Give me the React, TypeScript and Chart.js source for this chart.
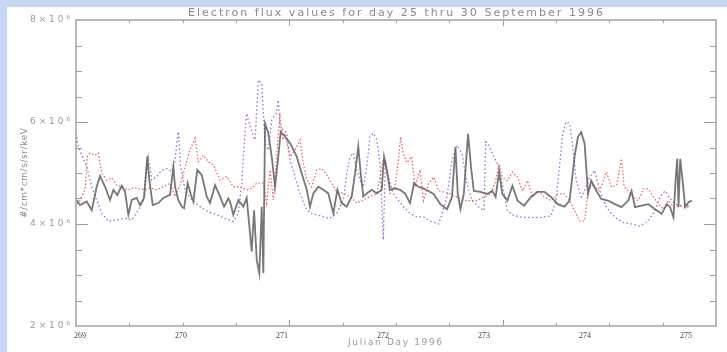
import { useEffect, useRef } from "react";
import { Chart, registerables } from "chart.js";

Chart.register(...registerables);

const TITLE = "Electron flux values for day 25 thru 30 September 1996";
const X_TITLE = "Julian Day 1996";
const Y_TITLE = "#/cm*cm/s/sr/keV";
const DAY_TICKS = [269, 270, 271, 272, 273, 274, 275];
const FLUX_TICKS = [2, 4, 6, 8]; // ×10⁶
const X_MIN = 268.96;
const X_MAX = 275.297;

// [julian day, flux ×10⁶]
const solidFlux: [number, number][] = [
  [268.967, 4.47], [269.0, 4.37], [269.066, 4.44], [269.116, 4.27], [269.165, 4.73], [269.198, 4.94],
  [269.248, 4.73], [269.297, 4.47], [269.33, 4.67], [269.369, 4.57], [269.413, 4.75], [269.446, 4.63],
  [269.478, 4.18], [269.512, 4.47], [269.561, 4.51], [269.594, 4.37], [269.634, 4.51], [269.666, 5.32],
  [269.686, 4.86], [269.72, 4.37], [269.775, 4.41], [269.825, 4.51], [269.891, 4.57], [269.924, 5.12],
  [269.941, 4.73], [269.973, 4.47], [270.007, 4.34], [270.03, 4.31], [270.066, 4.8], [270.099, 4.57],
  [270.122, 4.44], [270.161, 5.06], [270.205, 4.96], [270.254, 4.54], [270.287, 4.41], [270.337, 4.76],
  [270.386, 4.54], [270.426, 4.34], [270.468, 4.5], [270.485, 4.44], [270.518, 4.18], [270.567, 4.47],
  [270.617, 4.34], [270.65, 4.51], [270.683, 3.82], [270.7, 3.46], [270.723, 4.27], [270.75, 3.29],
  [270.775, 3.03], [270.799, 4.34], [270.815, 3.04], [270.832, 5.97], [270.864, 5.78], [270.898, 5.32],
  [270.931, 4.73], [270.963, 5.32], [270.987, 5.81], [271.03, 5.71], [271.079, 5.59], [271.146, 5.32],
  [271.195, 4.99], [271.245, 4.67], [271.277, 4.34], [271.31, 4.6], [271.359, 4.73], [271.409, 4.67],
  [271.458, 4.6], [271.508, 4.21], [271.548, 4.67], [271.591, 4.41], [271.641, 4.34], [271.69, 4.54],
  [271.723, 4.99], [271.755, 5.52], [271.779, 4.99], [271.805, 4.54], [271.839, 4.6], [271.888, 4.67],
  [271.938, 4.6], [271.987, 4.67], [272.01, 5.32], [272.037, 5.06], [272.069, 4.67], [272.119, 4.7],
  [272.168, 4.67], [272.218, 4.6], [272.267, 4.41], [272.307, 4.8], [272.349, 4.73], [272.399, 4.7],
  [272.501, 4.59], [272.567, 4.39], [272.634, 4.29], [272.683, 4.53], [272.717, 5.51], [272.74, 4.59],
  [272.766, 4.29], [272.8, 4.59], [272.842, 5.77], [272.871, 5.12], [272.899, 4.65], [272.965, 4.63],
  [273.03, 4.59], [273.082, 4.65], [273.115, 4.53], [273.149, 5.02], [273.181, 4.59], [273.232, 4.46],
  [273.281, 4.75], [273.331, 4.46], [273.396, 4.36], [273.465, 4.53], [273.531, 4.63], [273.597, 4.63],
  [273.663, 4.53], [273.73, 4.39], [273.796, 4.34], [273.847, 4.46], [273.896, 5.31], [273.93, 5.71],
  [273.962, 5.8], [273.996, 5.58], [274.03, 4.59], [274.062, 4.85], [274.112, 4.65], [274.161, 4.49],
  [274.228, 4.46], [274.295, 4.39], [274.361, 4.33], [274.428, 4.46], [274.461, 4.65], [274.495, 4.33],
  [274.56, 4.36], [274.627, 4.39], [274.693, 4.29], [274.759, 4.2], [274.81, 4.39], [274.842, 4.33],
  [274.876, 4.13], [274.899, 4.92], [274.913, 5.28], [274.926, 4.33], [274.943, 5.28], [274.966, 4.85],
  [274.992, 4.33], [275.026, 4.43], [275.059, 4.46],
];

const redFlux: [number, number][] = [
  [268.95, 4.34], [269.0, 4.47], [269.05, 4.67], [269.072, 5.32], [269.099, 5.39], [269.149, 5.35],
  [269.181, 5.39], [269.215, 5.0], [269.264, 4.86], [269.314, 4.9], [269.363, 4.76], [269.413, 4.73],
  [269.462, 4.67], [269.528, 4.71], [269.594, 4.69], [269.644, 4.67], [269.693, 4.71], [269.759, 4.67],
  [269.825, 4.73], [269.891, 4.8], [269.941, 4.54], [269.99, 4.76], [270.04, 5.12], [270.089, 5.45],
  [270.139, 5.68], [270.171, 5.22], [270.221, 5.35], [270.27, 5.22], [270.32, 5.16], [270.386, 4.86],
  [270.452, 4.93], [270.518, 4.73], [270.584, 4.73], [270.65, 4.67], [270.7, 4.7], [270.75, 4.8],
  [270.815, 4.8], [270.848, 4.41], [270.881, 5.06], [270.914, 4.47], [270.963, 5.78], [270.98, 6.1],
  [271.007, 5.65], [271.03, 5.78], [271.079, 5.32], [271.129, 5.45], [271.178, 5.65], [271.211, 5.19],
  [271.245, 4.86], [271.294, 4.73], [271.344, 5.06], [271.393, 5.09], [271.443, 4.96], [271.492, 4.8],
  [271.542, 4.63], [271.607, 4.6], [271.673, 4.54], [271.74, 4.41], [271.805, 4.47], [271.871, 4.54],
  [271.938, 4.6], [272.003, 5.25], [272.037, 5.06], [272.069, 4.6], [272.119, 4.73], [272.151, 5.25],
  [272.175, 5.71], [272.201, 5.39], [272.235, 5.2], [272.284, 5.32], [272.317, 4.73], [272.366, 5.06],
  [272.401, 4.46], [272.45, 4.78], [272.501, 4.92], [272.551, 4.65], [272.6, 4.63], [272.666, 4.59],
  [272.733, 4.53], [272.8, 4.46], [272.866, 4.46], [272.933, 4.46], [273.0, 4.53], [273.065, 4.59],
  [273.115, 4.85], [273.149, 5.18], [273.181, 4.92], [273.232, 4.85], [273.281, 5.02], [273.331, 4.92],
  [273.381, 4.65], [273.431, 4.85], [273.48, 4.53], [273.531, 4.65], [273.597, 4.53], [273.663, 4.46],
  [273.73, 4.59], [273.796, 4.59], [273.847, 4.46], [273.896, 4.26], [273.946, 4.06], [273.996, 4.06],
  [274.03, 4.65], [274.079, 4.78], [274.129, 4.65], [274.161, 4.73], [274.212, 5.02], [274.261, 4.73],
  [274.311, 4.75], [274.361, 5.28], [274.388, 4.73], [274.428, 4.65], [274.477, 4.53], [274.528, 4.46],
  [274.577, 4.69], [274.627, 4.69], [274.677, 4.53], [274.727, 4.39], [274.776, 4.29], [274.827, 4.46],
  [274.876, 4.33], [274.926, 4.36], [274.992, 4.33], [275.042, 4.33],
];

const purpleFlux: [number, number][] = [
  [268.96, 5.78], [268.983, 5.52], [269.017, 5.35], [269.066, 5.12], [269.116, 4.73], [269.165, 4.47],
  [269.215, 4.21], [269.28, 4.05], [269.363, 4.08], [269.446, 4.11], [269.512, 4.08], [269.577, 4.27],
  [269.627, 4.47], [269.66, 5.12], [269.676, 5.32], [269.71, 4.86], [269.759, 4.93], [269.809, 5.06],
  [269.858, 5.09], [269.908, 5.03], [269.941, 5.25], [269.957, 5.58], [269.973, 5.81], [269.997, 5.12],
  [270.04, 4.67], [270.106, 4.47], [270.188, 4.34], [270.27, 4.24], [270.353, 4.18], [270.436, 4.11],
  [270.518, 4.05], [270.567, 4.21], [270.601, 4.8], [270.634, 5.78], [270.65, 6.17], [270.683, 5.91],
  [270.733, 5.65], [270.765, 6.82], [270.799, 6.76], [270.832, 5.58], [270.864, 5.45], [270.898, 6.04],
  [270.941, 6.17], [270.963, 6.43], [270.98, 5.91], [271.013, 5.84], [271.047, 5.78], [271.079, 5.25],
  [271.129, 4.93], [271.178, 4.6], [271.228, 4.34], [271.277, 4.21], [271.344, 4.18], [271.409, 4.14],
  [271.475, 4.11], [271.542, 4.21], [271.607, 4.47], [271.641, 4.99], [271.673, 5.32], [271.706, 5.39],
  [271.74, 5.06], [271.772, 4.86], [271.805, 4.73], [271.839, 5.12], [271.871, 5.71], [271.904, 5.78],
  [271.938, 5.65], [271.97, 5.19], [272.003, 3.69], [272.023, 5.25], [272.052, 4.93], [272.102, 4.6],
  [272.151, 4.47], [272.201, 4.34], [272.267, 4.21], [272.334, 4.14], [272.399, 4.14], [272.465, 4.06],
  [272.551, 4.0], [272.584, 4.2], [272.634, 4.53], [272.683, 5.25], [272.733, 5.54], [272.782, 5.38],
  [272.832, 4.78], [272.881, 4.46], [272.95, 4.33], [273.0, 4.26], [273.016, 5.61], [273.05, 5.54],
  [273.099, 5.31], [273.149, 5.12], [273.181, 4.78], [273.232, 4.26], [273.297, 4.16], [273.381, 4.13],
  [273.465, 4.13], [273.564, 4.13], [273.663, 4.16], [273.713, 4.46], [273.747, 5.12], [273.78, 5.77],
  [273.812, 6.0], [273.847, 5.97], [273.879, 5.51], [273.913, 4.85], [273.962, 4.53], [273.996, 4.65],
  [274.046, 4.92], [274.095, 5.05], [274.146, 4.65], [274.212, 4.33], [274.295, 4.13], [274.378, 4.03],
  [274.461, 4.0], [274.545, 3.96], [274.627, 4.06], [274.693, 4.26], [274.743, 4.53], [274.792, 4.65],
  [274.827, 4.53], [274.859, 4.46], [274.893, 4.39], [274.943, 4.36], [274.992, 4.39], [275.042, 4.33],
];

function spacedText(
  ctx: CanvasRenderingContext2D,
  text: string,
  x: number,
  y: number,
  width: number,
  font: string,
  color: string
) {
  ctx.save();
  ctx.font = font;
  ctx.fillStyle = color;
  ctx.textBaseline = "middle";
  ctx.textAlign = "left";
  (ctx as any).letterSpacing = "0px";
  const natural = ctx.measureText(text).width;
  const n = Array.from(text).length;
  const sp = Math.max(0, (width - natural) / Math.max(1, n - 1));
  (ctx as any).letterSpacing = sp + "px";
  ctx.fillText(text, x, y);
  ctx.restore();
}

const decor = {
  id: "decor",
  beforeDraw(chart: any) {
    const { ctx, width, height } = chart;
    ctx.save();
    ctx.fillStyle = "#c6d7f3";
    ctx.fillRect(0, 0, width, height);
    ctx.fillStyle = "#ffffff";
    ctx.fillRect(7, 7, width - 7, height - 7);
    ctx.restore();
  },
  afterDraw(chart: any) {
    const { ctx, chartArea } = chart;
    const { left, right, top, bottom } = chartArea;
    const xs = chart.scales.x;
    const ys = chart.scales.y;
    ctx.save();
    ctx.strokeStyle = "#9c9c9c";
    ctx.lineWidth = 1.4;
    ctx.strokeRect(left, top, right - left, bottom - top);
    ctx.lineWidth = 1;
    ctx.beginPath();
    for (let i = 1; i < 12; i++) {
      const v = X_MIN + ((X_MAX - X_MIN) * i) / 12;
      const px = Math.round(xs.getPixelForValue(v)) + 0.5;
      const len = i % 4 === 0 ? 6 : 3;
      ctx.moveTo(px, bottom);
      ctx.lineTo(px, bottom - len);
      ctx.moveTo(px, top);
      ctx.lineTo(px, top + len);
    }
    for (let i = 1; i < 12; i++) {
      const v = 2 + i * 0.5;
      const py = Math.round(ys.getPixelForValue(v)) + 0.5;
      const len = i % 4 === 0 ? 12 : 6;
      ctx.moveTo(left, py);
      ctx.lineTo(left + len, py);
      ctx.moveTo(right, py);
      ctx.lineTo(right - len, py);
    }
    ctx.stroke();
    ctx.restore();

    const sans = '"DejaVu Sans", sans-serif';
    spacedText(ctx, TITLE, 188, 13, 415, `11px ${sans}`, "#8a8a8a");
    spacedText(ctx, X_TITLE, 348, 343, 94, `9px ${sans}`, "#9a9a9a");
    FLUX_TICKS.forEach((v) => {
      const py = ys.getPixelForValue(v);
      spacedText(ctx, `${v}×10⁶`, 30, py, 40, `9px ${sans}`, "#9a9a9a");
    });
    ctx.save();
    ctx.translate(25, (top + bottom) / 2);
    ctx.rotate(-Math.PI / 2);
    spacedText(ctx, Y_TITLE, -45, 0, 90, `9px ${sans}`, "#8a8a8a");
    ctx.restore();
  },
};

export default function App() {
  const ref = useRef<HTMLCanvasElement | null>(null);
  useEffect(() => {
    document.body.style.margin = "0";
    const canvas = ref.current!;
    const toXY = (arr: [number, number][]) => arr.map(([x, y]) => ({ x, y }));
    const chart = new Chart(canvas, {
      type: "line",
      data: {
        datasets: [
          {
            label: "solid",
            data: toXY(solidFlux),
            borderColor: "rgba(85,85,85,0.8)",
            borderWidth: 1.8,
            pointRadius: 0,
            tension: 0,
            order: 1,
          },
          {
            label: "red",
            data: toXY(redFlux),
            borderColor: "#f06868",
            borderWidth: 1.3,
            borderDash: [1.5, 2],
            pointRadius: 0,
            tension: 0,
            order: 2,
          },
          {
            label: "purple",
            data: toXY(purpleFlux),
            borderColor: "#9a6cd6",
            borderWidth: 1.3,
            borderDash: [1.5, 2.5],
            pointRadius: 0,
            tension: 0,
            order: 3,
          },
        ],
      },
      options: {
        responsive: false,
        animation: false,
        layout: { padding: { top: 20, right: 11, left: 0, bottom: 0 } },
        plugins: {
          legend: { display: false },
          title: { display: false },
          tooltip: { enabled: false },
        },
        scales: {
          x: {
            type: "linear",
            min: X_MIN,
            max: X_MAX,
            grid: { display: false, drawTicks: false },
            border: { display: false },
            afterBuildTicks: (s: any) => {
              s.ticks = DAY_TICKS.map((v) => ({ value: v }));
            },
            afterFit: (s: any) => {
              s.height = 26;
            },
            ticks: {
              padding: 5,
              maxRotation: 0,
              autoSkip: false,
              color: "#444",
              font: { family: '"Liberation Serif", serif', size: 8 },
              callback: (v: any) => String(v),
            },
          },
          y: {
            type: "linear",
            min: 2,
            max: 8,
            grid: { display: false, drawTicks: false },
            border: { display: false },
            afterBuildTicks: (s: any) => {
              s.ticks = FLUX_TICKS.map((v) => ({ value: v }));
            },
            afterFit: (s: any) => {
              s.width = 76;
            },
            ticks: { display: false },
          },
        },
      },
      plugins: [decor],
    });
    return () => chart.destroy();
  }, []);
  return (
    <canvas
      ref={ref}
      width={727}
      height={352}
      style={{ display: "block", width: 727, height: 352 }}
    />
  );
}
